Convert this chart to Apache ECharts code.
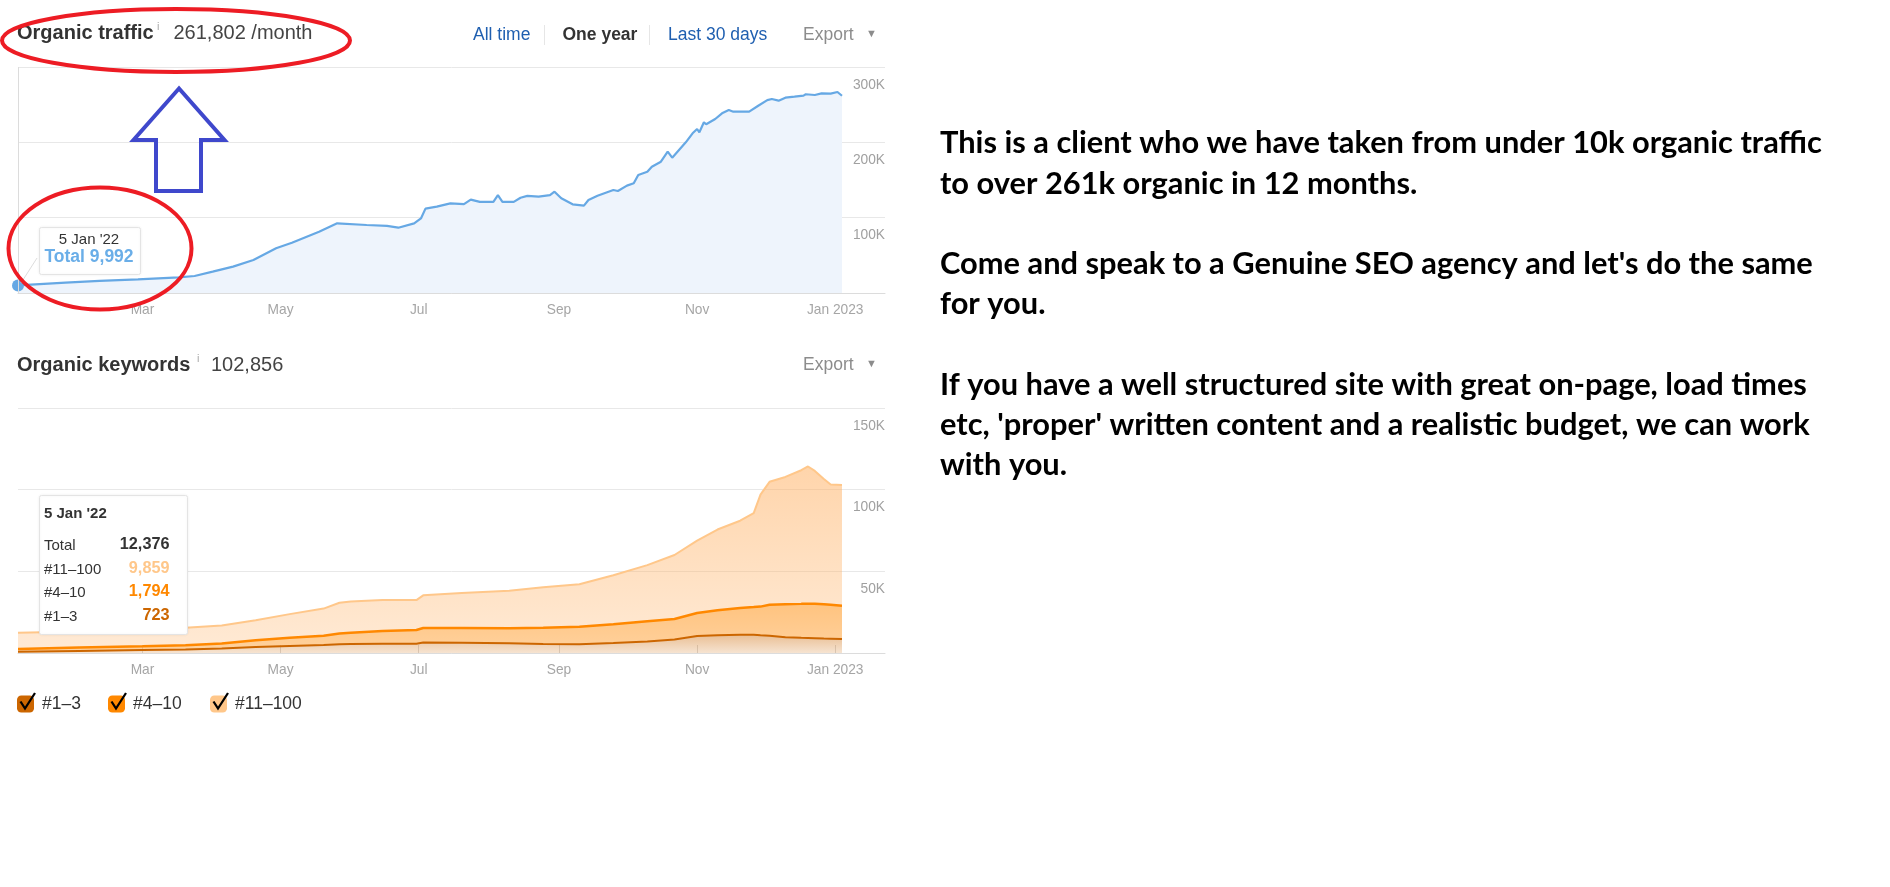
<!DOCTYPE html>
<html><head><meta charset="utf-8">
<script src="https://cdn.jsdelivr.net/npm/echarts@6/dist/echarts.min.js"></script>
<style>html,body{margin:0;padding:0;background:#fff}#c{width:1890px;height:887px}</style>
</head><body><div id="c"></div>
<script>
const monthNames = ['Jan','Feb','Mar','Apr','May','Jun','Jul','Aug','Sep','Oct','Nov','Dec'];

const trafficDates = ['2022-01-05','2022-01-26','2022-02-10','2022-02-27','2022-03-17','2022-03-24','2022-04-01','2022-04-10','2022-04-19','2022-04-29','2022-05-06','2022-05-18','2022-05-26','2022-06-08','2022-06-17','2022-06-22','2022-06-29','2022-07-02','2022-07-04','2022-07-09','2022-07-15','2022-07-21','2022-07-24','2022-07-28','2022-08-03','2022-08-05','2022-08-07','2022-08-12','2022-08-15','2022-08-18','2022-08-23','2022-08-28','2022-08-30','2022-09-02','2022-09-07','2022-09-12','2022-09-14','2022-09-18','2022-09-25','2022-09-27','2022-10-01','2022-10-04','2022-10-06','2022-10-10','2022-10-12','2022-10-16','2022-10-19','2022-10-21','2022-10-24','2022-10-27','2022-10-30','2022-11-01','2022-11-02','2022-11-04','2022-11-05','2022-11-09','2022-11-12','2022-11-15','2022-11-17','2022-11-24','2022-11-28','2022-12-02','2022-12-04','2022-12-07','2022-12-10','2022-12-14','2022-12-18','2022-12-19','2022-12-23','2022-12-26','2022-12-30','2023-01-02','2023-01-04'];
const trafficValues = [9992,13700,16000,18200,20800,22600,28300,35000,43800,59300,66800,81400,92500,90300,89000,86700,92500,99000,112000,114600,119000,118000,124000,121000,121000,130000,121000,121000,126500,129000,128000,130000,134500,125700,117700,116000,123500,129000,136700,135400,142500,145600,156700,161000,167700,174300,187600,179600,189800,200000,212000,217700,213300,226600,224000,231000,238500,243000,240700,240700,248600,256000,257500,255300,259300,260600,262000,263800,262800,265000,264600,266800,261802];

const kwDates = ['2022-01-05','2022-02-01','2022-03-01','2022-03-20','2022-04-05','2022-04-20','2022-05-05','2022-05-20','2022-05-27','2022-06-01','2022-06-15','2022-06-30','2022-07-03','2022-07-20','2022-08-10','2022-08-25','2022-09-10','2022-09-25','2022-10-10','2022-10-22','2022-11-01','2022-11-10','2022-11-20','2022-11-26','2022-11-29','2022-12-03','2022-12-10','2022-12-17','2022-12-20','2022-12-23','2022-12-27','2022-12-30','2023-01-04'];
const kwTop3    = [723,1300,1900,2200,2800,3600,4300,4900,5300,5500,5700,5700,6400,6300,5900,5500,5300,6100,7100,8300,10400,10900,11200,11100,10800,10500,9600,9300,9200,9100,8900,8800,8600];
const kw4to10   = [1794,2000,2200,2500,3000,4200,5100,5700,6600,6900,7800,8400,8900,9000,9200,9900,10700,11500,12400,12500,14100,15300,16400,17000,17600,19000,20300,20800,21000,21000,20900,20700,20400];
const kw11to100 = [9859,9900,10200,10700,11000,12200,14400,16600,18900,19200,18900,18300,20000,21400,23000,24900,26100,30000,34300,39200,44300,49400,53400,57500,68600,75300,77900,81800,84000,81400,76700,73700,73856];

const seriesNames = ['#1\u20133','#4\u201310','#11\u2013100'];
const seriesColors = ['#cc6600','#ff8800','#ffc78a'];
const trafficHeader = ['Organic traffic','261,802 /month'];
const kwHeader = ['Organic keywords','102,856'];
const rangeLinks = ['All time','One year','Last 30 days','Export'];
const trafficTip = ["5 Jan '22",'Total 9,992'];
const kwTip = {date:"5 Jan '22", rows:[['Total','12,376'],['#11\u2013100','9,859'],['#4\u201310','1,794'],['#1\u20133','723']]};
const noteLines = [
  'This is a client who we have taken from under 10k organic traffic',
  'to over 261k organic in 12 months.',
  '',
  "Come and speak to a Genuine SEO agency and let's do the same",
  'for you.',
  '',
  'If you have a well structured site with great on-page, load times',
  "etc, 'proper' written content and a realistic budget, we can work",
  'with you.'
];

const FONT = '"Liberation Sans", Arial, sans-serif';
const chart = echarts.init(document.getElementById('c'));

function xAxisCfg(gi){
  return {
    type:'time', gridIndex:gi, min:'2022-01-05', max:'2023-01-23', splitNumber:5,
    axisLine:{lineStyle:{color:'#dcdcdc'}},
    axisTick:{show:true, inside:true, length:8, lineStyle:{color:'#dcdcdc'}},
    splitLine:{show:false},
    axisLabel:{color:'#a6a6a6', fontSize:13.75, fontFamily:FONT, margin:10, showMinLabel:false, showMaxLabel:false,
      formatter:function(v){const d=new Date(v);const m=d.getMonth();return m===0?monthNames[0]+' '+d.getFullYear():monthNames[m];}}
  };
}
function yAxisCfg(gi,max,interval){
  return {
    type:'value', gridIndex:gi, position:'right', min:0, max:max, interval:interval,
    axisLine:{show:false}, axisTick:{show:false},
    splitLine:{lineStyle:{color:'#e8e8e8'}},
    axisLabel:{inside:true, margin:0, verticalAlign:'top', padding:[11,0,0,0], color:'#a0a0a0', fontSize:13.75, fontFamily:FONT,
      formatter:function(v){return v===0?'':(v/1000)+'K';}}
  };
}

const mctx = document.createElement('canvas').getContext('2d');
mctx.font = 'bold 100px Lato';
const noteSize = 100*882/mctx.measureText(noteLines[0]).width;

const graphic = [];
function txt(x,y,text,font,fill,align){
  graphic.push({type:'text', x:x, y:y, z:50, style:{text:text, font:font, fill:fill, align:align||'left', verticalAlign:'middle'}});
}
txt(17,33.5,trafficHeader[0],'bold 20px '+FONT,'#333');
txt(157,27,'i','11px '+FONT,'#aaa');
txt(173.5,33.5,trafficHeader[1],'20px '+FONT,'#444');
txt(473,35,rangeLinks[0],'17.5px '+FONT,'#1f5fb0');
txt(562.5,35,rangeLinks[1],'bold 17.5px '+FONT,'#333');
txt(668,35,rangeLinks[2],'17.5px '+FONT,'#1f5fb0');
txt(803,35,rangeLinks[3],'17.5px '+FONT,'#8c8c8c');
txt(866,34,'\u25BC','11px '+FONT,'#8c8c8c');
graphic.push({type:'line', z:50, shape:{x1:544.5,y1:25,x2:544.5,y2:45}, style:{stroke:'#e6e6e6',lineWidth:1}});
graphic.push({type:'line', z:50, shape:{x1:649.5,y1:25,x2:649.5,y2:45}, style:{stroke:'#e6e6e6',lineWidth:1}});

txt(17,365.5,kwHeader[0],'bold 20px '+FONT,'#333');
txt(197,359,'i','11px '+FONT,'#aaa');
txt(211,365.5,kwHeader[1],'20px '+FONT,'#444');
txt(803,365,rangeLinks[3],'17.5px '+FONT,'#8c8c8c');
txt(866,364,'\u25BC','11px '+FONT,'#8c8c8c');

graphic.push({type:'line', z:40, shape:{x1:37,y1:258,x2:21,y2:283}, style:{stroke:'#dddddd',lineWidth:1}});
graphic.push({type:'rect', z:41, shape:{x:39.5,y:227.5,width:101,height:47,r:2}, style:{fill:'#fff',stroke:'#e4e4e4',lineWidth:1,shadowBlur:3,shadowColor:'rgba(0,0,0,0.06)'}});
txt(89,240,trafficTip[0],'15px '+FONT,'#333','center');
txt(89,257.5,trafficTip[1],'bold 17.5px '+FONT,'#6aaee8','center');

graphic.push({type:'rect', z:41, shape:{x:39.5,y:495.5,width:148,height:139,r:2}, style:{fill:'#fff',stroke:'#e4e4e4',lineWidth:1,shadowBlur:3,shadowColor:'rgba(0,0,0,0.06)'}});
txt(44,514,kwTip.date,'bold 15px '+FONT,'#333');
const tipColors = ['#333','#ffc78a','#ff8800','#cc6600'];
const tipY = [545.5,569.5,593,617];
kwTip.rows.forEach((r,i)=>{
  txt(44,tipY[i],r[0],'15px '+FONT,'#333');
  txt(169.5,tipY[i]-1,r[1],'bold 16.25px '+FONT,tipColors[i],'right');
});

const legendLeft = [17,108,210];
legendLeft.forEach(lx=>{
  const dx = lx-17;
  graphic.push({type:'polyline', z:60, shape:{points:[[20.5+dx,701.5],[25+dx,708.5],[35+dx,693]]}, style:{stroke:'#000',lineWidth:2.3,fill:null}});
});

graphic.push({type:'ellipse', z:80, shape:{cx:176,cy:40.5,rx:174,ry:31.5}, style:{fill:null,stroke:'#ed1c24',lineWidth:4}});
graphic.push({type:'ellipse', z:80, shape:{cx:100,cy:248.5,rx:91.5,ry:61}, style:{fill:null,stroke:'#ed1c24',lineWidth:4}});
graphic.push({type:'polygon', z:80, shape:{points:[[179,88.5],[133.5,140],[156,140],[156,191],[201,191],[201,140],[224.5,140]]}, style:{fill:null,stroke:'#3f48cc',lineWidth:4}});

noteLines.forEach((l,i)=>{
  if(!l) return;
  txt(940,143.4+i*40.24,l,'bold '+noteSize.toFixed(2)+'px Lato','#000');
});

function pairs(dates,vals){return dates.map((d,i)=>[d,vals[i]]);}

const trafficData = pairs(trafficDates,trafficValues);
trafficData[0] = {value:trafficData[0], symbol:'circle', symbolSize:12};

const kwSeriesVals = [kwTop3, kw4to10, kw11to100];
const lineW = [2,2.5,2];
const areaStops = [
  ['rgba(204,102,0,0.42)','rgba(204,102,0,0.18)'],
  ['rgba(255,136,0,0.50)','rgba(255,136,0,0.38)'],
  ['rgba(255,178,102,0.55)','rgba(255,178,102,0.28)']
];

const option = {
  animation:false,
  backgroundColor:'#fff',
  grid:[
    {left:18, right:1005, top:67, height:226},
    {left:18, right:1005, top:408, height:245}
  ],
  xAxis:[xAxisCfg(0), xAxisCfg(1)],
  yAxis:[yAxisCfg(0,300000,100000), yAxisCfg(1,150000,50000)],
  legend:seriesNames.map((n,i)=>({
    data:[n], left:legendLeft[i], top:695, padding:0, itemWidth:17, itemHeight:17,
    icon:'roundRect', selectedMode:false,
    textStyle:{color:'#333', fontSize:17.5, fontFamily:FONT, padding:[0,0,0,3]}
  })),
  series:[
    {
      name:'Total', type:'line', xAxisIndex:0, yAxisIndex:0, data:trafficData,
      symbol:'none', showSymbol:true, smooth:false,
      itemStyle:{color:'#66a8e4'},
      lineStyle:{color:'#66a8e4', width:2.2},
      areaStyle:{color:'#eef4fc', opacity:1},
      markLine:{silent:true, symbol:'none', label:{show:false}, lineStyle:{color:'#dcdcdc', type:'solid', width:1}, data:[{xAxis:'2022-01-05'}]}
    }
  ].concat(seriesNames.map((n,i)=>({
      name:n, type:'line', xAxisIndex:1, yAxisIndex:1, stack:'kw',
      data:pairs(kwDates, kwSeriesVals[i]),
      showSymbol:false, symbol:'none',
      itemStyle:{color:seriesColors[i]},
      lineStyle:{color:seriesColors[i], width:lineW[i]},
      areaStyle:{color:{type:'linear',x:0,y:0,x2:0,y2:1,colorStops:[{offset:0,color:areaStops[i][0]},{offset:1,color:areaStops[i][1]}]}, opacity:1},
      z:10-i
  }))),
  graphic:graphic
};
chart.setOption(option);
</script>
</body></html>
